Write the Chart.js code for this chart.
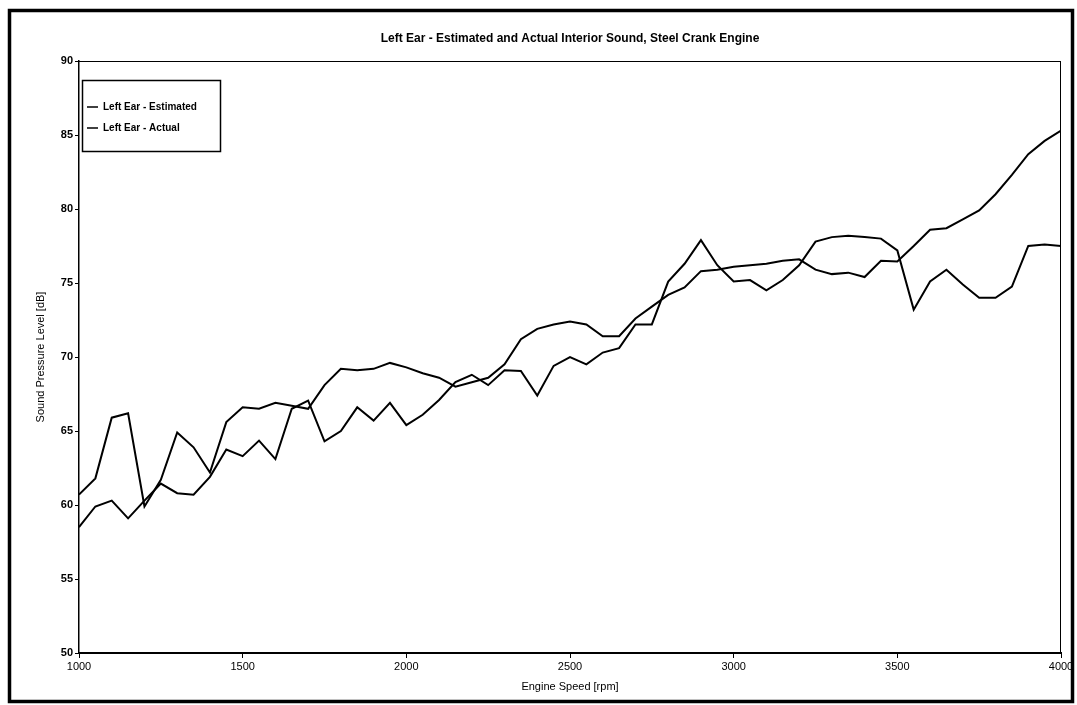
<!DOCTYPE html>
<html>
<head>
<meta charset="utf-8">
<script src="https://cdn.jsdelivr.net/npm/chart.js@4"></script>
<style>
  html, body { margin: 0; padding: 0; background: #fff; }
  #wrap { width: 1077px; height: 705px; position: relative; }
</style>
</head>
<body>
<div id="wrap"><canvas id="chart" width="1077" height="705"></canvas></div>
<script>
const rpm = [1000, 1050, 1100, 1150, 1200, 1250, 1300, 1350, 1400, 1450,
  1500, 1550, 1600, 1650, 1700, 1750, 1800, 1850, 1900, 1950,
  2000, 2050, 2100, 2150, 2200, 2250, 2300, 2350, 2400, 2450,
  2500, 2550, 2600, 2650, 2700, 2750, 2800, 2850, 2900, 2950,
  3000, 3050, 3100, 3150, 3200, 3250, 3300, 3350, 3400, 3450,
  3500, 3550, 3600, 3650, 3700, 3750, 3800, 3850, 3900, 3950, 4000];

const estimated = [60.7, 61.8, 65.9, 66.2, 59.9, 61.7, 64.9, 63.9, 62.2, 65.6,
  66.6, 66.5, 66.9, 66.7, 66.5, 68.1, 69.2, 69.1, 69.2, 69.6,
  69.3, 68.9, 68.6, 68.0, 68.3, 68.6, 69.5, 71.2, 71.9, 72.2,
  72.4, 72.2, 71.4, 71.4, 72.6, 73.4, 74.2, 74.7, 75.8, 75.9,
  76.1, 76.2, 76.3, 76.5, 76.6, 75.9, 75.6, 75.7, 75.4, 76.5,
  76.45, 77.5, 78.6, 78.7, 79.3, 79.9, 81.0, 82.3, 83.7, 84.6, 85.3];

const actual = [58.5, 59.9, 60.3, 59.1, 60.3, 61.45, 60.8, 60.7, 61.9, 63.75,
  63.3, 64.35, 63.1, 66.5, 67.05, 64.3, 65.0, 66.6, 65.7, 66.9,
  65.4, 66.1, 67.1, 68.3, 68.8, 68.1, 69.1, 69.05, 67.4, 69.4,
  70.0, 69.5, 70.3, 70.6, 72.2, 72.2, 75.1, 76.3, 77.9, 76.2,
  75.1, 75.2, 74.5, 75.2, 76.2, 77.8, 78.1, 78.2, 78.1, 78.0,
  77.2, 73.2, 75.1, 75.9, 74.9, 74.0, 74.0, 74.75, 77.5, 77.6, 77.5];

const seriesNames = ["Left Ear - Estimated", "Left Ear - Actual"];
const chartTitle = "Left Ear - Estimated and Actual Interior Sound, Steel Crank Engine";
const xTitle = "Engine Speed [rpm]";
const yTitle = "Sound Pressure Level [dB]";

const FONT = "'Liberation Sans', Arial, sans-serif";

// frame, title, axis titles, plot box and legend drawn by hand
const decor = {
  id: "decor",
  afterDraw(chart) {
    const ctx = chart.ctx;
    const a = chart.chartArea;
    ctx.save();
    // outer frame
    ctx.strokeStyle = "#000";
    ctx.lineWidth = 3.5;
    ctx.strokeRect(9.5, 10.5, 1063, 691);
    // plot box top / right
    ctx.lineWidth = 1;
    ctx.beginPath();
    ctx.moveTo(a.left, a.top + 0.5);
    ctx.lineTo(a.right, a.top + 0.5);
    ctx.moveTo(a.right - 0.5, a.top);
    ctx.lineTo(a.right - 0.5, a.bottom);
    ctx.stroke();
    // title
    ctx.fillStyle = "#000";
    ctx.font = "bold 12px " + FONT;
    ctx.textAlign = "center";
    ctx.textBaseline = "middle";
    ctx.fillText(chartTitle, (a.left + a.right) / 2, 39);
    // x title
    ctx.font = "11px " + FONT;
    ctx.fillText(xTitle, (a.left + a.right) / 2, 687);
    // y title
    ctx.save();
    ctx.translate(41, (a.top + a.bottom) / 2);
    ctx.rotate(-Math.PI / 2);
    ctx.fillText(yTitle, 0, 0);
    ctx.restore();
    // legend
    const lx = 82, ly = 80, lw = 138, lh = 71;
    ctx.fillStyle = "#fff";
    ctx.fillRect(lx, ly, lw, lh);
    ctx.lineWidth = 1.5;
    ctx.strokeRect(lx + 0.5, ly + 0.5, lw, lh);
    ctx.font = "bold 10px " + FONT;
    ctx.textAlign = "left";
    chart.data.datasets.forEach((ds, i) => {
      const y = 107 + i * 21;
      ctx.strokeStyle = ds.borderColor;
      ctx.lineWidth = 1.5;
      ctx.beginPath();
      ctx.moveTo(87, y);
      ctx.lineTo(98, y);
      ctx.stroke();
      ctx.fillStyle = "#000";
      ctx.fillText(ds.label, 103, y);
    });
    ctx.restore();
  }
};

const ctx = document.getElementById("chart").getContext("2d");
new Chart(ctx, {
  type: "line",
  data: {
    datasets: [
      {
        label: seriesNames[0],
        data: rpm.map((r, i) => ({ x: r, y: estimated[i] })),
        borderColor: "#000",
        borderWidth: 2,
        pointRadius: 0,
        tension: 0,
        fill: false
      },
      {
        label: seriesNames[1],
        data: rpm.map((r, i) => ({ x: r, y: actual[i] })),
        borderColor: "#000",
        borderWidth: 2,
        pointRadius: 0,
        tension: 0,
        fill: false
      }
    ]
  },
  options: {
    responsive: false,
    animation: false,
    layout: { padding: { top: 61, right: 16, left: 0, bottom: 0 } },
    plugins: {
      legend: { display: false },
      title: { display: false },
      tooltip: { enabled: false }
    },
    scales: {
      x: {
        type: "linear",
        min: 1000,
        max: 4000,
        ticks: {
          stepSize: 500, color: "#000", font: { family: FONT, size: 11 }, padding: 2, maxRotation: 0,
          callback: (v) => String(v)
        },
        grid: { drawOnChartArea: false, tickLength: 5, color: "#000" },
        border: { color: "#000", width: 2 },
        afterFit(scale) { scale.height = 52; }
      },
      y: {
        min: 50,
        max: 90,
        ticks: { stepSize: 5, color: "#000", font: { family: FONT, size: 11, weight: "bold" }, padding: 2 },
        grid: { drawOnChartArea: false, tickLength: 4, color: "#000" },
        border: { color: "#000", width: 1.5 },
        afterFit(scale) { scale.height; scale.width = 79; }
      }
    }
  },
  plugins: [decor]
});
</script>
</body>
</html>
